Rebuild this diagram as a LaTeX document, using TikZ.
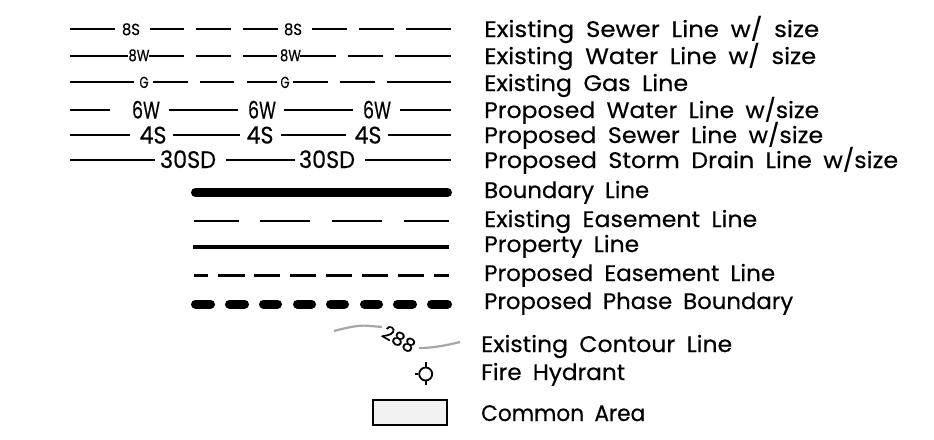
\documentclass[tikz,border=0pt]{standalone}
\usepackage{graphicx}
\usepackage{fontspec}
\setmainfont[WordSpace=1.8,FakeBold=0.35]{Poppins}
\newsavebox{\fitbox}
\newcommand{\fitw}[2]{\sbox{\fitbox}{#2}\pgfmathsetmacro{\fitr}{#1/\the\wd\fitbox}\scalebox{\fitr}[1]{\usebox{\fitbox}}}
\newcommand{\legend}[5]{\node[lbl] (#1) at (#2,#3) {\fitw{#4}{#5}};}
\newcommand{\tag}[6]{\node[tagtxt,font=\fontsize{#5}{#5}\selectfont] (#1) at (#2,#3) {\fitw{#4}{#6}};}
\definecolor{contour}{HTML}{A6A6A6}
\definecolor{areafill}{HTML}{F2F2F2}
\tikzset{
  lbl/.style={anchor=base west,inner sep=0pt,font=\fontsize{22.5}{22.5}\selectfont},
  tagtxt/.style={anchor=base,inner sep=0pt},
  thinline/.style={line width=1.7pt},
  midline/.style={line width=1.9pt},
  stormline/.style={line width=2.4pt},
  boundaryline/.style={line width=9pt,line cap=round},
  easeline/.style={line width=2.2pt},
  propline/.style={line width=3.6pt},
  phaseline/.style={line width=9pt,line cap=round},
  contourline/.style={contour,line width=2.2pt},
  hydrant/.style={line width=1.8pt},
  areabox/.style={draw,line width=2pt,fill=areafill}
}
\begin{document}
\begin{tikzpicture}[x=1pt,y=-1pt]
\useasboundingbox (0,0) rectangle (934,439);
% utility lines
\foreach \a/\b in {70/115,150/184,196/231,243/278,312/347,359/394,406/451}\draw[thinline] (\a,29)--(\b,29);
\foreach \a/\b in {70/128,149/184,196/231,243/277,300/336,348/383,395/451}\draw[thinline] (\a,56)--(\b,56);
\foreach \a/\b in {70/134,153/188,200/234,247/277,293/328,340/375,387/451}\draw[thinline] (\a,82)--(\b,82);
\foreach \a/\b in {70/110,169/238,284/353,400/451}\draw[midline] (\a,110)--(\b,110);
\foreach \a/\b in {70/130,173/240,281/346,388/451}\draw[midline] (\a,135)--(\b,135);
\foreach \a/\b in {70/155,226/295,365/451}\draw[stormline] (\a,160)--(\b,160);
\tag{sa}{131}{35}{18}{16}{8S}
\tag{sb}{293}{35}{18}{16}{8S}
\tag{wa}{139}{61}{21}{16}{8W}
\tag{wb}{290.5}{61}{21}{16}{8W}
\tag{ga}{144}{88}{9}{16}{G}
\tag{gb}{285}{88}{9}{16}{G}
\tag{pwa}{146}{118.5}{28}{24}{6W}
\tag{pwb}{262}{118.5}{28}{24}{6W}
\tag{pwc}{377}{118.5}{28}{24}{6W}
\tag{psa}{153}{143.5}{27}{24}{4S}
\tag{psb}{260}{143.5}{27}{24}{4S}
\tag{psc}{368}{143.5}{27}{24}{4S}
\tag{sda}{188}{168}{56}{24}{30SD}
\tag{sdb}{327}{168}{56}{24}{30SD}
% boundary lines
\draw[boundaryline] (195.5,192.5)--(447.5,192.5);
\foreach \a/\b in {194/239,260/310,332/382,404/449}\draw[easeline] (\a,221)--(\b,221);
\draw[propline] (193,246.7)--(449,246.7);
\foreach \a/\b in {194/208,218/244.5,254/280,290/316,326/352,362/388,398/424,434/449}\draw[easeline] (\a,275.5)--(\b,275.5);
\foreach \a/\b in {195.5/210.5,229.5/244.5,263.5/277.5,297.5/311.5,330.5/344.5,364.5/378.5,397.5/412.5,431.5/447.5}\draw[phaseline] (\a,304)--(\b,304);
% contour
\draw[contourline] (334,331) .. controls (345,328) and (358,325) .. (367,325.7) -- (382,327);
\draw[contourline] (419,348) .. controls (428,348) and (440,347) .. (460,342);
\node[inner sep=0pt,rotate=-30,font=\fontsize{19}{19}\selectfont] (cl) at (399,339) {288};
% hydrant
\node[circle,draw,hydrant,minimum size=13pt,inner sep=0pt] (fh) at (425.7,374) {};
\coordinate (fhn) at (425.7,362);
\coordinate (fhs) at (425.7,385);
\coordinate (fhw) at (415,374);
\draw[hydrant] (fh.north)--(fhn);
\draw[hydrant] (fh.south)--(fhs);
\draw[hydrant] (fh.west)--(fhw);
% common area
\node[areabox,minimum width=74.5pt,minimum height=24.7pt,inner sep=0pt] (ca) at (410,412.7) {};
% legend text
\legend{t1}{484}{37}{335}{Existing Sewer Line w/ size}
\legend{t2}{484}{64}{332}{Existing Water Line w/ size}
\legend{t3}{484}{91}{204}{Existing Gas Line}
\legend{t4}{484}{118}{335}{Proposed Water Line w/size}
\legend{t5}{484}{143}{339}{Proposed Sewer Line w/size}
\legend{t6}{484}{168}{414}{Proposed Storm Drain Line w/size}
\legend{t7}{484}{198}{165}{Boundary Line}
\legend{t8}{484}{227}{273}{Existing Easement Line}
\legend{t9}{484}{252}{155}{Property Line}
\legend{t10}{484}{281}{291}{Proposed Easement Line}
\legend{t11}{484}{309}{309}{Proposed Phase Boundary}
\legend{t12}{481}{352}{251}{Existing Contour Line}
\legend{t13}{481}{380}{144}{Fire Hydrant}
\legend{t14}{481}{421}{164}{Common Area}
\end{tikzpicture}
\end{document}
